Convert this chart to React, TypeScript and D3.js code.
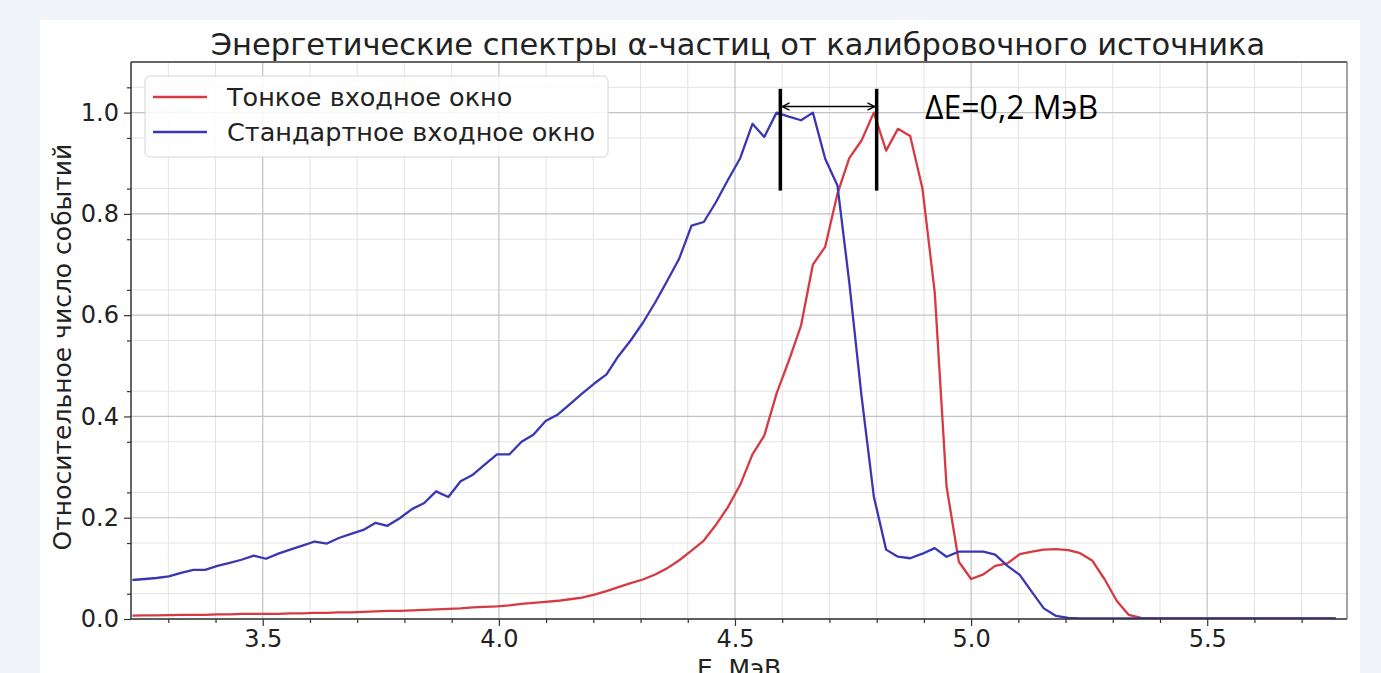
import React, { useEffect, useRef } from "react";
import * as d3 from "d3";

const W = 1381;
const H = 673;
const plot = { left: 131, right: 1347, top: 62, bottom: 619 };

// Energy channels, MeV
const energy = [
  3.224, 3.25, 3.275, 3.301, 3.327, 3.353, 3.378, 3.404, 3.43, 3.455,
  3.481, 3.507, 3.533, 3.558, 3.584, 3.61, 3.636, 3.661, 3.687, 3.713,
  3.739, 3.764, 3.79, 3.816, 3.842, 3.867, 3.893, 3.919, 3.945, 3.97,
  3.996, 4.022, 4.048, 4.073, 4.099, 4.125, 4.15, 4.176, 4.202, 4.228,
  4.253, 4.279, 4.305, 4.331, 4.356, 4.382, 4.408, 4.434, 4.459, 4.485,
  4.511, 4.537, 4.562, 4.588, 4.614, 4.64, 4.665, 4.691, 4.717, 4.742,
  4.768, 4.794, 4.82, 4.845, 4.871, 4.897, 4.923, 4.948, 4.974, 5.0,
  5.026, 5.051, 5.077, 5.103, 5.129, 5.154, 5.18, 5.206, 5.231, 5.257,
  5.283, 5.309, 5.334, 5.36, 5.386, 5.412, 5.437, 5.463, 5.489, 5.515,
  5.54, 5.566, 5.592, 5.617, 5.643, 5.669, 5.695, 5.72, 5.746, 5.772,
];

// "Тонкое входное окно"
const thinWindow = [
  0.0065, 0.007, 0.007, 0.0075, 0.008, 0.008, 0.008, 0.009, 0.009, 0.01,
  0.01, 0.01, 0.01, 0.011, 0.011, 0.012, 0.012, 0.013, 0.013, 0.014,
  0.015, 0.016, 0.016, 0.017, 0.018, 0.019, 0.02, 0.021, 0.023, 0.024,
  0.025, 0.027, 0.03, 0.032, 0.034, 0.036, 0.039, 0.042, 0.048, 0.055,
  0.063, 0.071, 0.078, 0.088, 0.1, 0.116, 0.135, 0.155, 0.185, 0.221,
  0.265, 0.325, 0.362, 0.445, 0.51, 0.58, 0.7, 0.735, 0.84, 0.91,
  0.945, 1.0, 0.925, 0.968, 0.954, 0.85, 0.645, 0.262, 0.113, 0.079,
  0.088, 0.105, 0.11, 0.128, 0.133, 0.137, 0.138, 0.136, 0.13, 0.115,
  0.078, 0.035, 0.008, 0.002, 0.001, 0.001, 0.001, 0.001, 0.001, 0.001,
  0.001, 0.001, 0.001, 0.001, 0.001, 0.001, 0.001, 0.001, 0.001, 0.001,
];

// "Стандартное входное окно"
const standardWindow = [
  0.077, 0.079, 0.081, 0.084, 0.091, 0.097, 0.097, 0.105, 0.111, 0.117,
  0.125, 0.119, 0.129, 0.137, 0.145, 0.153, 0.149, 0.16, 0.168, 0.176,
  0.19, 0.184, 0.199, 0.217, 0.229, 0.252, 0.241, 0.272, 0.285, 0.305,
  0.325, 0.325, 0.35, 0.364, 0.391, 0.404, 0.424, 0.445, 0.465, 0.483,
  0.519, 0.55, 0.585, 0.625, 0.667, 0.712, 0.777, 0.784, 0.822, 0.867,
  0.91, 0.978, 0.952, 1.0, 0.992, 0.985, 1.0, 0.909, 0.856, 0.665,
  0.44, 0.242, 0.137, 0.123, 0.12, 0.129, 0.14, 0.123, 0.133, 0.133,
  0.133, 0.127, 0.105, 0.087, 0.053, 0.021, 0.006, 0.002, 0.001, 0.001,
  0.001, 0.001, 0.001, 0.001, 0.001, 0.001, 0.001, 0.001, 0.001, 0.001,
  0.001, 0.001, 0.001, 0.001, 0.001, 0.001, 0.001, 0.001, 0.001, 0.001,
];

const xTicks = [3.5, 4.0, 4.5, 5.0, 5.5];
const yTicks = [0.0, 0.2, 0.4, 0.6, 0.8, 1.0];
const seriesNames = ["Тонкое входное окно", "Стандартное входное окно"];
const seriesColors = ["#d63a43", "#3b37b3"];
const markerE = [4.596, 4.8]; // ΔE bars
const title = "Энергетические спектры α-частиц от калибровочного источника";

const FONT = "DejaVu Sans, sans-serif";

export default function App() {
  const xAxisRef = useRef<SVGGElement>(null);
  const yAxisRef = useRef<SVGGElement>(null);
  const xMinorRef = useRef<SVGGElement>(null);
  const yMinorRef = useRef<SVGGElement>(null);

  const x = d3.scaleLinear().domain([3.221, 5.796]).range([plot.left, plot.right]);
  const y = d3.scaleLinear().domain([0, 1.1]).range([plot.bottom, plot.top]);

  const xMinor = d3.range(3.3, 5.8, 0.1).filter((v) => Math.abs(v * 2 - Math.round(v * 2)) > 1e-6);
  const yMinor = d3.range(0.05, 1.1, 0.1);

  const line = d3
    .line<number>()
    .x((_, i) => x(energy[i]))
    .y((d) => y(d));

  useEffect(() => {
    const style = (g: any) => {
      g.select(".domain").remove();
      g.selectAll("line").attr("stroke", "#333").attr("stroke-width", 1.2);
      g.selectAll("text").attr("font-family", FONT).attr("font-size", 24).attr("fill", "#222");
    };
    d3.select(xAxisRef.current!)
      .call(d3.axisBottom(x).tickValues(xTicks).tickFormat(d3.format(".1f")).tickSize(7).tickPadding(4) as any)
      .call(style);
    d3.select(yAxisRef.current!)
      .call(d3.axisLeft(y).tickValues(yTicks).tickFormat(d3.format(".1f")).tickSize(7).tickPadding(5) as any)
      .call(style);
    d3.select(xMinorRef.current!)
      .call(d3.axisBottom(x).tickValues(xMinor).tickFormat(() => "").tickSize(4) as any)
      .call(style);
    d3.select(yMinorRef.current!)
      .call(d3.axisLeft(y).tickValues(yMinor).tickFormat(() => "").tickSize(4) as any)
      .call(style);
  }, []);

  const yBar = [1.047, 0.846];
  const yArrow = 1.012;

  return (
    <svg
      width={W}
      height={H}
      style={{ position: "absolute", left: 0, top: 0, display: "block" }}
    >
      <defs>
        <clipPath id="plotClip">
          <rect x={plot.left} y={plot.top} width={plot.right - plot.left} height={plot.bottom - plot.top} />
        </clipPath>
        <marker id="arrow" viewBox="0 0 10 10" refX="9" refY="5" markerWidth="9" markerHeight="9" orient="auto-start-reverse" markerUnits="userSpaceOnUse">
          <path d="M1,1 L9,5 L1,9" fill="none" stroke="#000" strokeWidth={1.5} />
        </marker>
      </defs>
      <rect x={0} y={0} width={W} height={H} fill="#f1f5f9" />
      <rect x={40} y={20} width={1320} height={H} fill="#ffffff" />

      {/* minor grid */}
      <g stroke="#e3e3e3" strokeWidth={1}>
        {xMinor.map((v) => (
          <line key={"xm" + v} x1={x(v)} x2={x(v)} y1={plot.top} y2={plot.bottom} />
        ))}
        {yMinor.map((v) => (
          <line key={"ym" + v} x1={plot.left} x2={plot.right} y1={y(v)} y2={y(v)} />
        ))}
      </g>
      {/* major grid */}
      <g stroke="#c2c2c2" strokeWidth={1.2}>
        {xTicks.map((v) => (
          <line key={"xM" + v} x1={x(v)} x2={x(v)} y1={plot.top} y2={plot.bottom} />
        ))}
        {yTicks.map((v) => (
          <line key={"yM" + v} x1={plot.left} x2={plot.right} y1={y(v)} y2={y(v)} />
        ))}
      </g>

      <g clipPath="url(#plotClip)" fill="none" strokeWidth={2.3} strokeLinejoin="round">
        <path d={line(thinWindow) || ""} stroke={seriesColors[0]} />
        <path d={line(standardWindow) || ""} stroke={seriesColors[1]} />
      </g>

      {/* spines */}
      <line x1={plot.left} x2={plot.right} y1={plot.top} y2={plot.top} stroke="#333" strokeWidth={1.3} />
      <line x1={plot.left} x2={plot.left} y1={plot.top} y2={plot.bottom} stroke="#333" strokeWidth={1.5} />
      <line x1={plot.left} x2={plot.right} y1={plot.bottom} y2={plot.bottom} stroke="#333" strokeWidth={1.5} />
      <line x1={plot.right} x2={plot.right} y1={plot.top} y2={plot.bottom} stroke="#666" strokeWidth={1.2} />

      <g ref={xAxisRef} transform={`translate(0,${plot.bottom})`} />
      <g ref={xMinorRef} transform={`translate(0,${plot.bottom})`} />
      <g ref={yAxisRef} transform={`translate(${plot.left},0)`} />
      <g ref={yMinorRef} transform={`translate(${plot.left},0)`} />

      {/* legend */}
      <rect x={145} y={76} width={463} height={81} rx={5} fill="#ffffff" fillOpacity={0.85} stroke="#d6d6d6" />
      {seriesNames.map((name, i) => (
        <g key={name} transform={`translate(0,${97 + i * 35})`}>
          <line x1={153} x2={207} y1={0} y2={0} stroke={seriesColors[i]} strokeWidth={2.3} />
          <text x={227} y={9} fontFamily={FONT} fontSize={25.5} fill="#222">
            {name}
          </text>
        </g>
      ))}

      {/* ΔE annotation */}
      {markerE.map((e) => (
        <line key={"bar" + e} x1={x(e)} x2={x(e)} y1={y(yBar[0])} y2={y(yBar[1])} stroke="#000" strokeWidth={3.5} />
      ))}
      <line
        x1={x(markerE[0]) + 2}
        x2={x(markerE[1]) - 2}
        y1={y(yArrow)}
        y2={y(yArrow)}
        stroke="#000"
        strokeWidth={1.5}
        markerStart="url(#arrow)"
        markerEnd="url(#arrow)"
      />
      <text x={925} y={119} fontFamily="Open Sans, sans-serif" fontSize={32} fill="#000">
        ΔE=0,2 МэВ
      </text>

      {/* title and axis labels */}
      <text x={738} y={55} textAnchor="middle" fontFamily={FONT} fontSize={30.5} fill="#222">
        {title}
      </text>
      <text x={(plot.left + plot.right) / 2} y={677} textAnchor="middle" fontFamily={FONT} fontSize={25} fill="#222">
        E, МэВ
      </text>
      <text
        transform={`translate(71,347) rotate(-90)`}
        textAnchor="middle"
        fontFamily={FONT}
        fontSize={25}
        fill="#222"
      >
        Относительное число событий
      </text>
    </svg>
  );
}
